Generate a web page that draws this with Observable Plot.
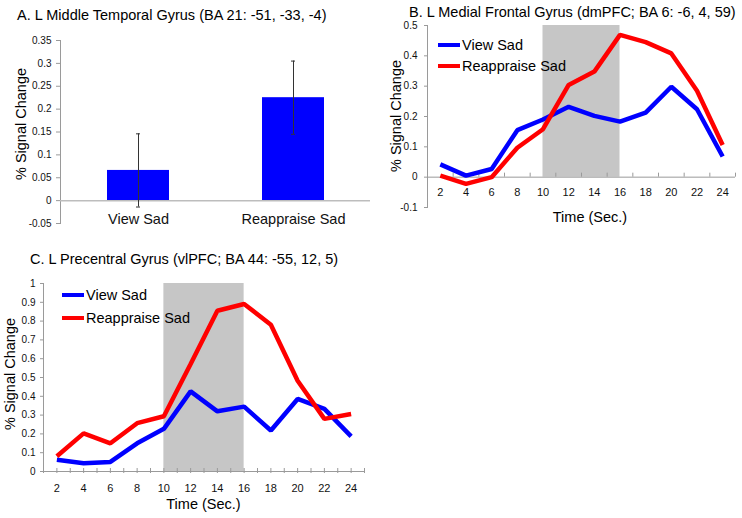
<!DOCTYPE html>
<html><head><meta charset="utf-8">
<script src="https://cdn.jsdelivr.net/npm/d3@7"></script>
<script src="https://cdn.jsdelivr.net/npm/@observablehq/plot@0.6"></script>
<style>
body{margin:0;background:#fff;}
#root{position:relative;width:742px;height:518px;font-family:"Liberation Sans",Arial,sans-serif;color:#000;overflow:hidden;background:#fff}
#root svg{position:absolute;overflow:visible}
.t{position:absolute;white-space:nowrap;font-size:14.5px;line-height:1}
.cx{transform:translateX(-50%)}
.ry{transform:translate(-50%,-50%) rotate(-90deg)}
.leg{position:absolute;display:flex;align-items:center;font-size:14.5px;line-height:1;white-space:nowrap}
.sw{display:inline-block;width:22px;height:4.5px;margin-right:2px}
</style></head><body><div id="root"></div>
<script>
// ---------- data ----------
const seriesNames = ["View Sad", "Reappraise Sad"];
const seriesColors = ["#0000ff", "#ff0000"];

// Panel A: bar chart
const barCategories = ["View Sad", "Reappraise Sad"];
const barValues = [0.066, 0.225];
const barErrors = [0.08, 0.08];
const barYTicks = [-0.05, 0, 0.05, 0.1, 0.15, 0.2, 0.25, 0.3, 0.35];
const barYDomain = [-0.05, 0.35];

// Panels B and C: time courses
const time = [2, 4, 6, 8, 10, 12, 14, 16, 18, 20, 22, 24];
const timeDomain = [1, 25];
const stimWindow = [10, 16];

const mfgView = [0.042, 0.005, 0.027, 0.155, 0.19, 0.232, 0.202, 0.183, 0.213, 0.298, 0.224, 0.068];
const mfgReappraise = [0.005, -0.022, 0.0, 0.097, 0.158, 0.304, 0.348, 0.469, 0.445, 0.408, 0.285, 0.106];
const mfgYTicks = [-0.1, 0, 0.1, 0.2, 0.3, 0.4, 0.5];
const mfgYDomain = [-0.1, 0.5];
const mfgCatTicks = [1, 3, 5, 7, 9, 11, 13, 15, 17, 19, 21, 23, 25];

const pcgView = [0.062, 0.044, 0.051, 0.15, 0.227, 0.426, 0.32, 0.345, 0.218, 0.386, 0.333, 0.187];
const pcgReappraise = [0.081, 0.203, 0.15, 0.257, 0.294, 0.572, 0.855, 0.891, 0.781, 0.483, 0.28, 0.306];
const pcgYTicks = [0, 0.1, 0.2, 0.3, 0.4, 0.5, 0.6, 0.7, 0.8, 0.9, 1];
const pcgYDomain = [0, 1];
const pcgCatTicks = [1,2,3,4,5,6,7,8,9,10,11,12,13,14,15,16,17,18,19,20,21,22,23,24,25];

const titles = [
  "A. L Middle Temporal Gyrus (BA 21: -51, -33, -4)",
  "B. L Medial Frontal Gyrus (dmPFC; BA 6: -6, 4, 59)",
  "C. L Precentral Gyrus (vlPFC; BA 44: -55, 12, 5)"
];
const yTitle = "% Signal Change";
const xTitle = "Time (Sec.)";

// ---------- helpers ----------
const root = document.getElementById("root");
const FONT = '"Liberation Sans", Arial, sans-serif';
const AXIS = "#9a9a9a";
function place(el, left, top) { el.style.left = left + "px"; el.style.top = top + "px"; root.appendChild(el); return el; }
function label(text, cls, left, top) { const d = document.createElement("div"); d.className = "t " + (cls || ""); d.textContent = text; return place(d, left, top); }
function legend(left, top, gap) {
  seriesNames.forEach((name, i) => {
    const row = document.createElement("div"); row.className = "leg";
    const sw = document.createElement("span"); sw.className = "sw"; sw.style.background = seriesColors[i];
    row.appendChild(sw); row.appendChild(document.createTextNode(name));
    place(row, left, top + i * gap);
  });
}
function rows(a, b) {
  return time.flatMap((t, i) => [
    {t, v: a[i], series: seriesNames[0]},
    {t, v: b[i], series: seriesNames[1]}
  ]);
}

// ---------- Panel A ----------
const barData = barCategories.map((c, i) => ({cat: c, v: barValues[i], e: barErrors[i]}));
const plotA = Plot.plot({
  width: 370, height: 240, marginLeft: 60, marginRight: 0, marginTop: 40, marginBottom: 17,
  style: {fontFamily: FONT, background: "none", color: "#111"},
  x: {type: "band", domain: barCategories, paddingInner: 0.6, paddingOuter: 0.3},
  y: {domain: barYDomain},
  marks: [
    Plot.barY(barData, {x: "cat", y: "v", fill: "#0000ff"}),
    Plot.frame({anchor: "left", stroke: AXIS}),
    Plot.ruleY([0], {stroke: "#bdbdbd", strokeWidth: 1.5}),
    Plot.ruleX(barData, {x: "cat", y1: d => d.v - d.e, y2: d => d.v + d.e, stroke: "#333"}),
    Plot.tickY(barData, {x: "cat", y: d => d.v + d.e, stroke: "#333", insetLeft: 29, insetRight: 29}),
    Plot.tickY(barData, {x: "cat", y: d => d.v - d.e, stroke: "#333", insetLeft: 29, insetRight: 29}),
    Plot.axisY({ticks: barYTicks, tickFormat: d => String(d), tickSize: 4, tickPadding: 5, stroke: AXIS, fontSize: 10, label: null}),
    Plot.axisX({tickSize: 0, tickPadding: 3, dy: -13, fontSize: 14.5, label: null})
  ]
});
place(plotA, 0, 0);

// ---------- Panel B ----------
const plotB = Plot.plot({
  width: 372, height: 240, marginLeft: 57, marginRight: 7, marginTop: 25, marginBottom: 33,
  style: {fontFamily: FONT, background: "none", color: "#111"},
  x: {domain: timeDomain},
  y: {domain: mfgYDomain},
  color: {domain: seriesNames, range: seriesColors},
  marks: [
    Plot.rect([stimWindow], {x1: d => d[0], x2: d => d[1], y1: 0, y2: mfgYDomain[1], fill: "#c6c6c6"}),
    Plot.frame({anchor: "left", stroke: AXIS}),
    Plot.ruleY([0], {stroke: AXIS}),
    Plot.ruleX(mfgCatTicks, {x: d => d, y1: 0, y2: 0, insetTop: 0, insetBottom: 4, stroke: AXIS}),
    Plot.axisY({ticks: mfgYTicks, tickFormat: d => String(d), tickSize: 3, tickPadding: 7, stroke: AXIS, fontSize: 10, label: null}),
    Plot.axisX({ticks: time, tickFormat: d => String(d), tickSize: 0, tickPadding: 3, dy: -22, fontSize: 11, label: null}),
    Plot.line(rows(mfgView, mfgReappraise), {x: "t", y: "v", z: "series", stroke: "series", strokeWidth: 4.5, strokeLinejoin: "miter", strokeLinecap: "butt"})
  ]
});
place(plotB, 370, 0);

// ---------- Panel C ----------
const plotC = Plot.plot({
  width: 380, height: 268, marginLeft: 43, marginRight: 16, marginTop: 33, marginBottom: 47,
  style: {fontFamily: FONT, background: "none", color: "#111"},
  x: {domain: timeDomain},
  y: {domain: pcgYDomain},
  color: {domain: seriesNames, range: seriesColors},
  marks: [
    Plot.rect([stimWindow], {x1: d => d[0], x2: d => d[1], y1: 0, y2: pcgYDomain[1], fill: "#c6c6c6"}),
    Plot.frame({anchor: "left", stroke: AXIS}),
    Plot.ruleY([0], {stroke: AXIS}),
    Plot.ruleX(pcgCatTicks, {x: d => d, y1: 0, y2: 0, insetTop: 2, insetBottom: 3, stroke: AXIS}),
    Plot.axisY({ticks: pcgYTicks, tickFormat: d => String(d), tickSize: 3, tickPadding: 5, stroke: AXIS, fontSize: 10, label: null}),
    Plot.axisX({ticks: time, tickFormat: d => String(d), tickSize: 0, tickPadding: 13, fontSize: 11, label: null}),
    Plot.line(rows(pcgView, pcgReappraise), {x: "t", y: "v", z: "series", stroke: "series", strokeWidth: 4.5, strokeLinejoin: "miter", strokeLinecap: "butt"})
  ]
});
place(plotC, 0, 250);

// ---------- text overlays ----------
label(titles[0], "", 17, 8);
label(titles[1], "", 409, 4.8);
label(titles[2], "", 30, 252);
label(yTitle, "ry", 21, 123.5);
label(yTitle, "ry", 396, 116);
label(yTitle, "ry", 10, 373.5);
label(xTitle, "cx", 590, 209.5);
label(xTitle, "cx", 203.5, 497);
legend(438, 37.5, 21);
legend(62, 287.5, 23.3);
</script></body></html>
